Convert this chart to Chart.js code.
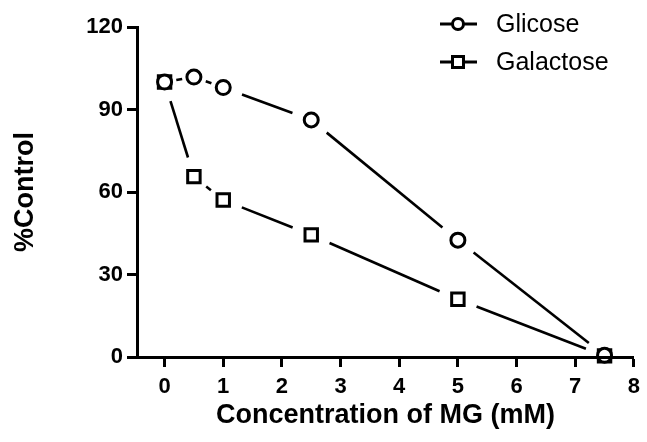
<!DOCTYPE html>
<html>
<head>
<meta charset="utf-8">
<script src="https://cdn.jsdelivr.net/npm/chart.js@4"></script>
<style>
  html, body { margin: 0; padding: 0; background: #fff; }
  #wrap { width: 647px; height: 442px; }
</style>
</head>
<body>
<div id="wrap"><canvas id="mgChart" width="647" height="442"></canvas></div>
<script>
    // values
    const concentrations = [0, 0.5, 1, 2.5, 5, 7.5];
    const glicoseData = [100, 101.8, 98, 86.2, 42.5, 0.6];
    const galactoseData = [100, 65.6, 57.1, 44.4, 21, 0.4];
    const seriesNames = ['Glicose', 'Galactose'];
    const xTicks = [0, 1, 2, 3, 4, 5, 6, 7, 8];
    const yTicks = [0, 30, 60, 90, 120];

    const FONT = "'Liberation Sans', Arial, Helvetica, sans-serif";

    const toPoints = (ys) => concentrations.map((x, i) => ({ x: x, y: ys[i] }));

    // Prism style: each segment stops short of the markers
    const gapDash = (ctx) => {
        const dx = ctx.p1.x - ctx.p0.x;
        const dy = ctx.p1.y - ctx.p0.y;
        const len = Math.sqrt(dx * dx + dy * dy);
        const gap = Math.max(0, Math.min(20, (len - 6) / 2));
        return [0, gap, Math.max(0, len - 2 * gap), len + 200];
    };

    const lineSet = (ys) => ({
        data: toPoints(ys),
        showLine: true,
        borderColor: '#000',
        borderWidth: 2.6,
        pointRadius: 0,
        pointHoverRadius: 0,
        fill: false,
        clip: false,
        order: 5,
        segment: { borderDash: gapDash }
    });

    const markerSet = (ys, style, r) => ({
        data: toPoints(ys),
        showLine: false,
        pointStyle: style,
        pointRadius: r,
        pointHoverRadius: r,
        pointBorderWidth: 3,
        pointBackgroundColor: '#fff',
        pointBorderColor: '#000',
        clip: false,
        order: 1
    });

    const legendPlugin = {
        id: 'prismLegend',
        afterDraw(chart) {
            const ctx = chart.ctx;
            const rows = [
                { name: seriesNames[0], y: 24, style: 'circle' },
                { name: seriesNames[1], y: 62, style: 'square' }
            ];
            ctx.save();
            rows.forEach(row => {
                ctx.strokeStyle = '#000';
                ctx.lineWidth = 3;
                ctx.beginPath();
                ctx.moveTo(440, row.y);
                ctx.lineTo(477, row.y);
                ctx.stroke();
                ctx.fillStyle = '#fff';
                ctx.beginPath();
                if (row.style === 'circle') {
                    ctx.arc(458, row.y, 5.5, 0, Math.PI * 2);
                } else {
                    ctx.rect(452.5, row.y - 5.5, 11, 11);
                }
                ctx.fill();
                ctx.stroke();
                ctx.fillStyle = '#000';
                ctx.font = '25px ' + FONT;
                ctx.textBaseline = 'middle';
                ctx.textAlign = 'left';
                ctx.fillText(row.name, 496, row.y + 1);
            });
            ctx.restore();
        }
    };

    const configMG = {
        type: 'scatter',
        data: {
            datasets: [
                lineSet(glicoseData),
                lineSet(galactoseData),
                markerSet(glicoseData, 'circle', 7),
                markerSet(galactoseData, 'rect', 8.8)
            ]
        },
        options: {
            responsive: false,
            animation: false,
            layout: {
                padding: { top: 27, right: 11, left: 0, bottom: 0 }
            },
            scales: {
                x: {
                    type: 'linear',
                    min: -0.47,
                    max: 8,
                    afterBuildTicks: (axis) => { axis.ticks = xTicks.map(v => ({ value: v })); },
                    afterFit: (axis) => { axis.height = 85; },
                    grid: {
                        drawOnChartArea: false,
                        drawTicks: true,
                        tickLength: 10,
                        tickWidth: 3,
                        color: '#000'
                    },
                    border: { display: true, color: '#000', width: 3, z: 1 },
                    ticks: {
                        color: '#000',
                        padding: 7,
                        maxRotation: 0,
                        font: { family: FONT, size: 22, weight: 'bold' }
                    },
                    title: {
                        display: true,
                        text: 'Concentration of MG (mM)',
                        color: '#000',
                        padding: { top: 0, bottom: 10 },
                        font: { family: FONT, size: 27, weight: 'bold' }
                    }
                },
                y: {
                    min: 0,
                    max: 120,
                    afterBuildTicks: (axis) => { axis.ticks = yTicks.map(v => ({ value: v })); },
                    afterFit: (axis) => { axis.width = 137; },
                    grid: {
                        drawOnChartArea: false,
                        drawTicks: true,
                        tickLength: 10,
                        tickWidth: 3,
                        color: '#000'
                    },
                    border: { display: true, color: '#000', width: 3, z: 1 },
                    ticks: {
                        color: '#000',
                        padding: 4,
                        font: { family: FONT, size: 22, weight: 'bold' }
                    },
                    title: {
                        display: true,
                        text: '%Control',
                        color: '#000',
                        padding: { top: 9, bottom: 0 },
                        font: { family: FONT, size: 27, weight: 'bold' }
                    }
                }
            },
            plugins: {
                legend: { display: false },
                tooltip: { enabled: false }
            }
        },
        plugins: [legendPlugin]
    };

    new Chart(document.getElementById('mgChart'), configMG);
</script>
</body>
</html>
